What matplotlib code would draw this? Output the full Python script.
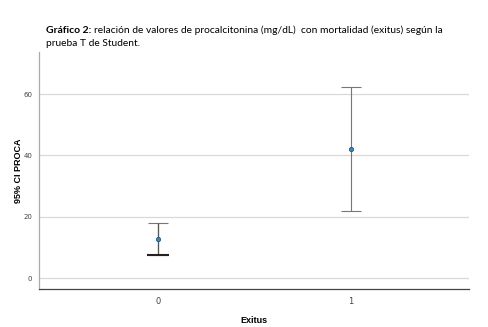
import matplotlib
matplotlib.use('Agg')
import matplotlib.pyplot as plt

# Exitus groups and 95% CI of PROCA
groups = [0, 1]
group_labels = ['0', '1']
means = [12.7, 42.1]
ci_low = [7.4, 21.8]
ci_high = [18.0, 62.2]

yticks = [0, 20, 40, 60]

fig = plt.figure(figsize=(4.88, 3.27), dpi=100)
ax = fig.add_axes([0.080, 0.116, 0.881, 0.725])

err = [[m - lo for m, lo in zip(means, ci_low)],
       [hi - m for m, hi in zip(means, ci_high)]]
ax.errorbar(groups, means, yerr=err, fmt='none', ecolor='#777777',
            elinewidth=0.8, capsize=7.2, capthick=0.8, zorder=3)
# the lower bar of group 0 is drawn heavier in the original
ax.hlines(ci_low[0], groups[0] - 0.055, groups[0] + 0.055, color='#222222',
          linewidth=1.5, zorder=4)
ax.vlines(groups[0], ci_low[0], ci_high[0], color='#555555',
          linewidth=0.9, zorder=3)
ax.scatter(groups, means, s=10, color='#3d85b8', edgecolor='#1f4f73',
           linewidth=0.5, zorder=5)

ax.set_xlim(-0.617, 1.611)
ax.set_ylim(-3.6, 73.7)
ax.set_xticks(groups)
ax.set_xticklabels(group_labels)
ax.set_yticks(yticks)
ax.tick_params(axis='both', length=0, labelsize=5, labelcolor='#444444')
ax.tick_params(axis='x', pad=6, labelsize=6)
ax.tick_params(axis='y', pad=5)
ax.yaxis.grid(True, color='#d9d9d9', linewidth=0.9)
ax.set_axisbelow(True)
for s in ['top', 'right']:
    ax.spines[s].set_visible(False)
ax.spines['left'].set_color('#aaaaaa')
ax.spines['left'].set_linewidth(0.9)
ax.spines['bottom'].set_color('#444444')
ax.spines['bottom'].set_linewidth(0.9)

ax.set_ylabel('95% CI PROCA', fontsize=6.5, fontweight='bold',
              family='Liberation Sans')
ax.yaxis.set_label_coords(-0.037, 0.50)
ax.set_xlabel('Exitus', fontsize=6.5, fontweight='bold',
              family='Liberation Sans')
ax.xaxis.set_label_coords(0.50, -0.115)

# title: bold lead-in followed by normal text on the same line
x0, y1, y2 = 0.094, 0.898, 0.859
t_bold = fig.text(x0, y1, 'Gráfico 2:', fontsize=7.5, family='Lato',
                  fontweight='bold')
renderer = fig.canvas.get_renderer()
bb = t_bold.get_window_extent(renderer).transformed(fig.transFigure.inverted())
fig.text(bb.x1 + 0.005, y1,
         'relación de valores de procalcitonina (mg/dL)  con mortalidad (exitus) según la',
         fontsize=7.4, family='Lato')
fig.text(x0, y2, 'prueba T de Student.', fontsize=7.4, family='Lato')

fig.savefig('out.png', dpi=100)
